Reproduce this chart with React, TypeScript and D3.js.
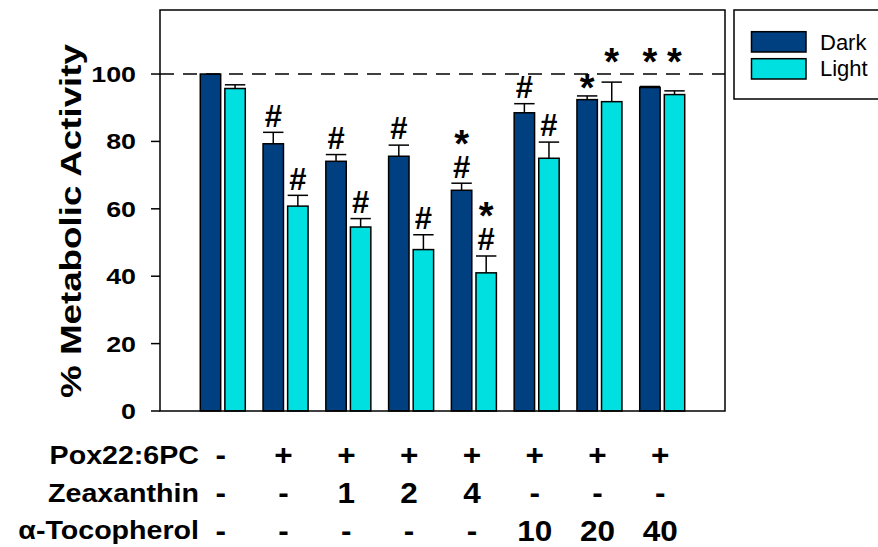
import React from "react";
import * as d3 from "d3";

// Treatment groups (one per cluster of bars)
const groups = ["ctrl", "pox", "zea1", "zea2", "zea4", "toc10", "toc20", "toc40"];

// % metabolic activity, mean and upper SEM for each condition
const darkMean = [100, 79.3, 74.1, 75.6, 65.5, 88.5, 92.4, 96.0];
const darkErr = [0, 3.4, 2.0, 3.3, 2.1, 2.7, 1.1, 0.3];
const lightMean = [95.7, 60.8, 54.6, 47.9, 41.0, 75.0, 91.8, 93.9];
const lightErr = [1.1, 3.2, 2.5, 4.4, 5.0, 4.8, 5.8, 1.1];

// Significance marks, listed top to bottom
const darkMarks = [[], ["#"], ["#"], ["#"], ["*", "#"], ["#"], ["*"], ["*"]];
const lightMarks = [[], ["#"], ["#"], ["#"], ["*", "#"], ["#"], ["*"], ["*"]];

// Treatment table under the axis
const rowLabels = ["Pox22:6PC", "Zeaxanthin", "\u03b1-Tocopherol"];
const poxRow = ["-", "+", "+", "+", "+", "+", "+", "+"];
const zeaRow = ["-", "-", "1", "2", "4", "-", "-", "-"];
const tocRow = ["-", "-", "-", "-", "-", "10", "20", "40"];

const yTicks = [0, 20, 40, 60, 80, 100];
const refLevel = 100;

const seriesNames = ["Dark", "Light"];
const seriesColors = ["#003f80", "#00e0e0"];

const FONT = "'Liberation Sans', Arial, Helvetica, sans-serif";

function Stretch({ x, y, sx = 1, anchor = "start", size, weight = "bold", children }: any) {
  return (
    <g transform={`translate(${x},${y}) scale(${sx},1)`}>
      <text x={0} y={0} textAnchor={anchor} fontSize={size} fontWeight={weight} fontFamily={FONT} fill="#000">
        {children}
      </text>
    </g>
  );
}

export default function App() {
  const W = 878;
  const H = 547;
  const left = 160;
  const right = 725;
  const top = 10;
  const bottom = 411;

  const x = d3.scalePoint<string>().domain(groups).range([left, right]).padding(1);
  const sub = d3.scaleBand<string>().domain(seriesNames).range([-22.5, 22.5]).paddingInner(0.17);
  const y = d3.scaleLinear().domain([0, 119]).range([bottom, top]);

  const lineY = y(refLevel);
  const bw = sub.bandwidth();

  const series = [
    { name: "Dark", mean: darkMean, err: darkErr, marks: darkMarks, color: seriesColors[0] },
    { name: "Light", mean: lightMean, err: lightErr, marks: lightMarks, color: seriesColors[1] },
  ];

  const starSize = 38;
  const hashSize = 31;

  // Significance marks stacked upward from the error-bar cap, as one text block
  const markLabel = (cx: number, capY: number, marks: string[], key: string) => {
    if (!marks.length) return null;
    const spans: { m: string; base: number }[] = [];
    let cursor = capY;
    [...marks].reverse().forEach((m, k) => {
      if (m === "#") {
        const base = cursor - 5.7;
        spans.push({ m, base });
        cursor = base - 19.5;
      } else {
        let bot = cursor - (k === 0 ? 4.3 : 11);
        const topG = bot - 13;
        // keep a lone star clear of the dashed reference line
        if (k === 0 && topG < lineY + 1 && bot > lineY - 1) bot = lineY - 8.6;
        spans.push({ m, base: bot + starSize * 0.25 });
        cursor = bot - 13;
      }
    });
    return (
      <text key={key} textAnchor="middle" fontWeight="bold" fontFamily={FONT} fill="#000">
        {spans.reverse().map((s, k) => (
          <tspan key={k} x={cx} y={s.base} fontSize={s.m === "#" ? hashSize : starSize}>
            {s.m}
          </tspan>
        ))}
      </text>
    );
  };

  const tableRows = [poxRow, zeaRow, tocRow];
  const labelBase = [463.5, 501.7, 538.5];
  const valueBase = [465, 502.5, 541];

  return (
    <svg width={W} height={H} viewBox={`0 0 ${W} ${H}`} style={{ position: "absolute", left: 0, top: 0 }}>
      <rect x={0} y={0} width={W} height={H} fill="#fff" />

      {/* bars with upper error bars */}
      {series.map((s) =>
        groups.map((g, i) => {
          const bx = (x(g) as number) + (sub(s.name) as number);
          const yt = y(s.mean[i]);
          const yc = y(s.mean[i] + s.err[i]);
          return (
            <g key={`${s.name}-${g}`}>
              <rect x={bx} y={yt} width={bw} height={bottom - yt} fill={s.color} stroke="#000" strokeWidth={1.5} />
              {s.err[i] > 0 && (
                <g stroke="#000" strokeWidth={1.5}>
                  <line x1={bx + bw / 2} x2={bx + bw / 2} y1={yt} y2={yc} />
                  <line x1={bx} x2={bx + bw} y1={yc} y2={yc} />
                </g>
              )}
              {markLabel(bx + bw / 2, yc, s.marks[i], `${s.name}-${g}-m`)}
            </g>
          );
        })
      )}

      {/* 100% reference */}
      <line x1={left} x2={right} y1={lineY} y2={lineY} stroke="#000" strokeWidth={1.5} strokeDasharray="14 9" />

      {/* frame */}
      <rect x={left} y={top} width={right - left} height={bottom - top} fill="none" stroke="#000" strokeWidth={1.5} />

      {/* y axis ticks and labels */}
      {yTicks.map((t) => (
        <g key={t}>
          <line x1={left - 9} x2={left} y1={y(t)} y2={y(t)} stroke="#000" strokeWidth={1.5} />
          <Stretch x={136} y={y(t) + 8} sx={1.22} anchor="end" size={22}>
            {t}
          </Stretch>
        </g>
      ))}

      <text
        transform={`translate(81,221) rotate(-90)`}
        textAnchor="middle"
        fontSize={30}
        fontWeight="bold"
        fontFamily={FONT}
        textLength={354}
        lengthAdjust="spacingAndGlyphs"
      >
        % Metabolic Activity
      </text>

      {/* treatment table */}
      {rowLabels.map((lab, r) => (
        <Stretch key={lab} x={199} y={labelBase[r]} sx={1.1} anchor="end" size={26}>
          {lab}
        </Stretch>
      ))}
      {tableRows.map((row, r) =>
        row.map((v, i) => (
          <Stretch key={`${r}-${i}`} x={(x(groups[i]) as number) - 2} y={valueBase[r]} sx={1.05} anchor="middle" size={30}>
            {v}
          </Stretch>
        ))
      )}

      {/* legend */}
      <rect x={734} y={10} width={150} height={89} fill="#fff" stroke="#000" strokeWidth={1.5} />
      {seriesNames.map((n, k) => (
        <g key={n}>
          <rect x={751.5} y={31.7 + k * 27} width={54.5} height={20.3} fill={seriesColors[k]} stroke="#000" strokeWidth={1.5} />
          <text x={820} y={50 + k * 26} fontSize={22} fontFamily={FONT} fill="#000">
            {n}
          </text>
        </g>
      ))}
    </svg>
  );
}
